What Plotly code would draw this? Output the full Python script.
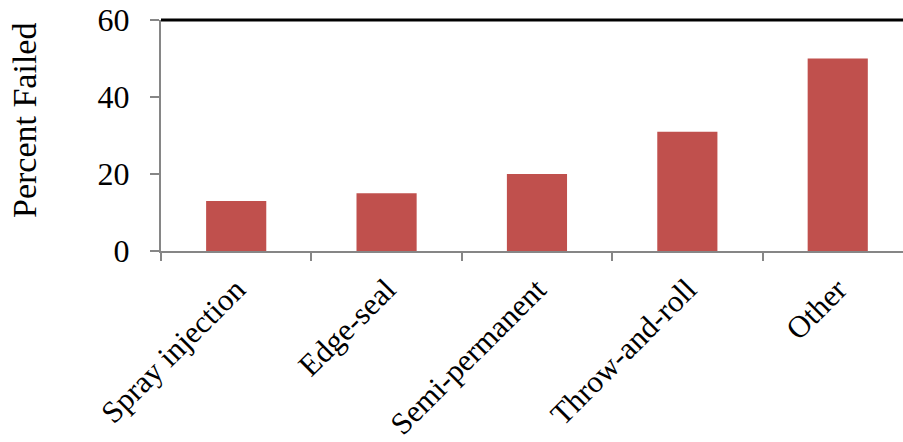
import plotly.graph_objects as go

categories = ["Spray injection", "Edge-seal", "Semi-permanent", "Throw-and-roll", "Other"]
percent_failed = [13, 15, 20, 31, 50]
y_ticks = [0, 20, 40, 60]

axis_gray = "#868686"
bar_red = "#C0504D"
serif = "Liberation Serif"

fig = go.Figure(
    go.Bar(
        x=categories,
        y=percent_failed,
        width=0.4,
        marker=dict(color=bar_red, line=dict(width=0)),
    )
)

fig.update_layout(
    width=903,
    height=442,
    margin=dict(l=161, r=0, t=20, b=191),
    paper_bgcolor="white",
    plot_bgcolor="white",
    showlegend=False,
    font=dict(family=serif, size=31, color="black"),
)

fig.update_xaxes(
    range=[-0.5, 4.434],
    showline=True,
    linecolor=axis_gray,
    linewidth=2,
    ticks="outside",
    tickson="boundaries",
    ticklen=8,
    tickcolor=axis_gray,
    tickwidth=2,
    tickangle=-45,
    ticklabelstandoff=6,
    tickfont=dict(family=serif, size=31, color="black"),
    showgrid=False,
    zeroline=False,
)

fig.update_yaxes(
    range=[0, 60],
    tickvals=y_ticks,
    showline=True,
    linecolor=axis_gray,
    linewidth=2,
    ticks="outside",
    ticklen=9,
    tickcolor=axis_gray,
    tickwidth=2,
    ticklabelstandoff=14,
    tickfont=dict(family=serif, size=32, color="black"),
    showgrid=False,
    zeroline=False,
)

# black rule along the top of the plot area
fig.add_shape(
    type="line", xref="paper", yref="paper",
    x0=0, x1=1, y0=1, y1=1,
    line=dict(color="black", width=3),
)

fig.add_annotation(
    text="Percent Failed",
    xref="paper", yref="paper",
    x=-161 / 742 + 25 / 742, y=(251 - 121) / 231,
    xanchor="center", yanchor="middle",
    textangle=-90, showarrow=False,
    font=dict(family=serif, size=34, color="black"),
)

fig.write_html("out.html")
